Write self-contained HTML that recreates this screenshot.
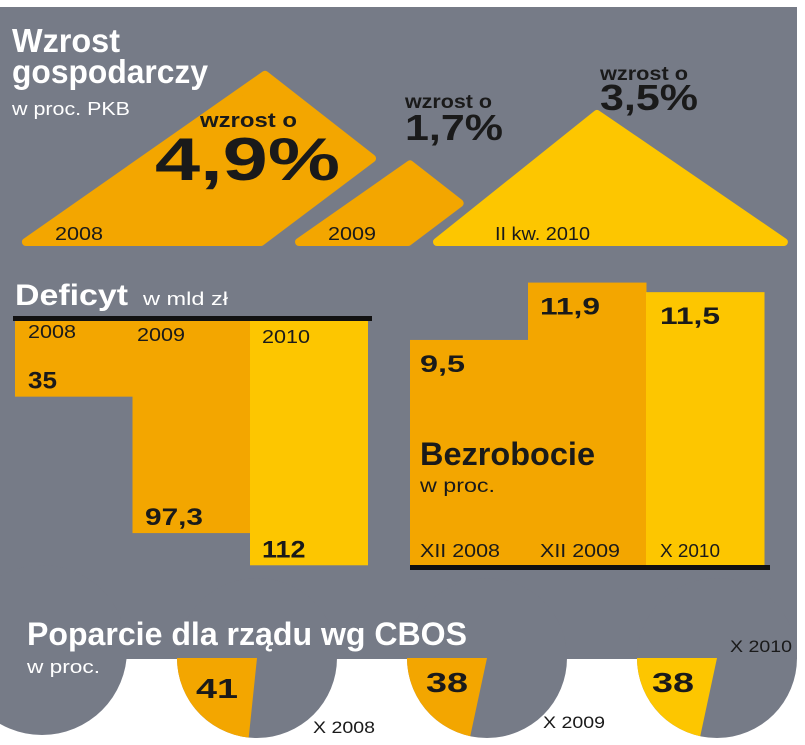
<!DOCTYPE html>
<html><head><meta charset="utf-8">
<style>
html,body{margin:0;padding:0;background:#fff;}
svg{display:block;}
text{font-family:"Liberation Sans Narrow","Liberation Sans",sans-serif;}
</style></head>
<body>
<svg id="c" width="805" height="745" viewBox="0 0 805 745">
  <rect x="0" y="7" width="797" height="652" fill="#767b87"/>
  <g id="lobes"></g>
  <g id="growth"></g>
  <g id="deficit"></g>
  <g id="unemp"></g>
  <g id="support"></g>
  <text x="12" y="52" font-size="33" font-weight="bold" fill="#fff" textLength="108" lengthAdjust="spacingAndGlyphs">Wzrost</text>
  <text x="12" y="83" font-size="33" font-weight="bold" fill="#fff" textLength="196" lengthAdjust="spacingAndGlyphs">gospodarczy</text>
  <text x="12" y="115" font-size="18" fill="#fff" textLength="118" lengthAdjust="spacingAndGlyphs">w proc. PKB</text>
  <text x="15" y="305" font-size="30" font-weight="bold" fill="#fff" textLength="113" lengthAdjust="spacingAndGlyphs">Deficyt</text>
  <text x="143" y="305" font-size="18" fill="#fff" textLength="85" lengthAdjust="spacingAndGlyphs">w mld zł</text>
  <rect x="13" y="316" width="359" height="5" fill="#111"/>
  <rect x="410" y="565" width="360" height="5" fill="#111"/>
  <text x="420" y="465" font-size="32" font-weight="bold" fill="#1a1a1a" textLength="175" lengthAdjust="spacingAndGlyphs">Bezrobocie</text>
  <text x="420" y="492" font-size="19" fill="#1a1a1a" textLength="75" lengthAdjust="spacingAndGlyphs">w proc.</text>
  <text x="27" y="645" font-size="32" font-weight="bold" fill="#fff" textLength="440" lengthAdjust="spacingAndGlyphs">Poparcie dla rządu wg CBOS</text>
  <text x="27" y="673" font-size="18" fill="#fff" textLength="73" lengthAdjust="spacingAndGlyphs">w proc.</text>
</svg>
<script>
// growth data
const growthLabels = ["2008", "2009", "II kw. 2010"];
const growthValues = [4.9, 1.7, 3.5];
const growthValueText = ["4,9%", "1,7%", "3,5%"];
// deficit data
const deficitYears = ["2008", "2009", "2010"];
const deficitValues = [35, 97.3, 112];
const deficitText = ["35", "97,3", "112"];
// unemployment data
const unempLabels = ["XII 2008", "XII 2009", "X 2010"];
const unempValues = [9.5, 11.9, 11.5];
const unempText = ["9,5", "11,9", "11,5"];
// support data
const supportLabels = ["X 2008", "X 2009", "X 2010"];
const supportValues = [41, 38, 38];

const NS = "http://www.w3.org/2000/svg";
function mk(tag, attrs, parent) {
  const e = document.createElementNS(NS, tag);
  for (const k in attrs) e.setAttribute(k, attrs[k]);
  parent.appendChild(e);
  return e;
}
function txt(parent, x, y, s, size, w, color, bold, len) {
  const t = mk("text", {x: x, y: y, "font-size": size, fill: color}, parent);
  if (bold) t.setAttribute("font-weight", "bold");
  if (len) { t.setAttribute("textLength", len); t.setAttribute("lengthAdjust", "spacingAndGlyphs"); }
  t.textContent = s;
  return t;
}
const ORANGE = "#f3a600", YEL = "#fdc600", DARK = "#1a1a1a";

// growth triangles
const gBase = 242;
const gy = v => gBase - (30 + v * 28);
const growthG = document.getElementById("growth");
const gApexX = [265, 410, 597];
const gColors = [ORANGE, ORANGE, YEL];
growthValues.forEach((v, i) => {
  const ay = gy(v), ax = gApexX[i], h = gBase - ay;
  let pts;
  if (i < 2) {
    const cut = i === 0 ? 0.5 : 0.5;
    const rx = ax + h * cut * 1.28, ry = ay + h * cut;
    const brx = rx - (gBase - ry) * 1.33;
    pts = [[ax - h * 1.43, gBase], [ax, ay], [rx, ry], [brx, gBase]];
  } else {
    pts = [[ax - h * 1.25, gBase], [ax, ay], [ax + h * 1.46, gBase]];
  }
  const p = mk("polygon", {points: pts.map(q => q.join(",")).join(" "), fill: gColors[i], stroke: gColors[i], "stroke-width": 8, "stroke-linejoin": "round"}, growthG);
  
  
});
const gLabX = [55, 328, 495], gLabLen = [48, 48, 95];
growthLabels.forEach((s, i) => {
  const t = txt(growthG, gLabX[i], 240, s, 18, 0, DARK, false, gLabLen[i]);
  
  
});
const vPos = [[200, 127, 97, 20, 155, 180, 185, 60], [405, 108, 87, 19, 405, 140, 98, 36], [600, 80, 88, 19, 600, 110, 98, 36]];
growthValueText.forEach((s, i) => {
  const q = vPos[i];
  const a = txt(growthG, q[0], q[1], "wzrost o", q[3], 0, DARK, true, q[2]);
  
  
  const b = txt(growthG, q[4], q[5], s, q[7], 0, DARK, true, q[6]);
  
  
});

// deficit bars
const dTop = 321, dScale = 2.19, dX0 = 15, dW = 117.5;
const dh = v => v * dScale;
const defG = document.getElementById("deficit");
const dCols = [ORANGE, ORANGE, YEL];
deficitValues.forEach((v, i) => {
  const r = mk("rect", {x: dX0 + i * dW, y: dTop, width: dW + 0.5, height: dh(v) - 1, fill: dCols[i]}, defG);
  
  
});
const dYearY = [338, 341, 343], dYearX = [28, 137, 262];
deficitYears.forEach((s, i) => {
  const t = txt(defG, dYearX[i], dYearY[i], s, 18, 0, DARK, false, 48);
  
  
});
deficitText.forEach((s, i) => {
  const t = txt(defG, dYearX[i] + (i === 1 ? 8 : 0), dTop + dh(deficitValues[i]) - 9, s, 24, 0, DARK, true, s.length * 14.5);
  
  
});

// unemployment bars
const uBase = 567, uScale = 23.9, uX0 = 410, uW = 118;
const uy = v => uBase - v * uScale;
const unG = document.getElementById("unemp");
unempValues.forEach((v, i) => {
  const r = mk("rect", {x: uX0 + i * uW, y: uy(v), width: uW + 0.5, height: v * uScale, fill: dCols[i]}, unG);
  
  
});
unempText.forEach((s, i) => {
  const t = txt(unG, uX0 + 10 + i * (uW + 2), uy(unempValues[i]) + 32, s, 24, 0, DARK, true, s.length * 15);
  
  
});
unempLabels.forEach((s, i) => {
  const t = txt(unG, uX0 + 10 + i * (uW + 2), 557, s, 18, 0, DARK, false, s.length === 8 ? 80 : 60);
  
  
});

// support lobes + pies
const lobesG = document.getElementById("lobes");
const l1 = mk("ellipse", {cx: 42, cy: 650, rx: 85, ry: 85, fill: "#767b87"}, lobesG);


const supG = document.getElementById("support");
const pcx = [257, 487, 717], pcy = 658, pr = 80;
const sweep = v => v * 2.05 * Math.PI / 180;
const pCols = [ORANGE, ORANGE, YEL];
supportValues.forEach((v, i) => {
  const c = mk("circle", {cx: pcx[i], cy: pcy, r: pr, fill: "#767b87"}, supG);
  
  
  const a = Math.PI - sweep(v);
  const ex = pcx[i] + pr * Math.cos(a), ey = pcy + pr * Math.sin(a);
  const d = `M${pcx[i]},${pcy} L${pcx[i] - pr},${pcy} A${pr},${pr} 0 0 0 ${ex},${ey} Z`;
  const s = mk("path", {d: d, fill: pCols[i]}, supG);
  
  
  const t = txt(supG, pcx[i] - 62 + (i === 0 ? 1 : 0) - (i === 1 ? -1 : 0) - (i === 2 ? 3 : 0), i === 0 ? 698 : 692, String(v), 28, 0, DARK, true, 42);
  
  
});
const sLab = [[313, 733], [543, 728], [730, 652]];
supportLabels.forEach((s, i) => {
  const t = txt(supG, sLab[i][0], sLab[i][1], s, 17, 0, DARK, false, 62);
  
  
});
</script>
</body></html>
